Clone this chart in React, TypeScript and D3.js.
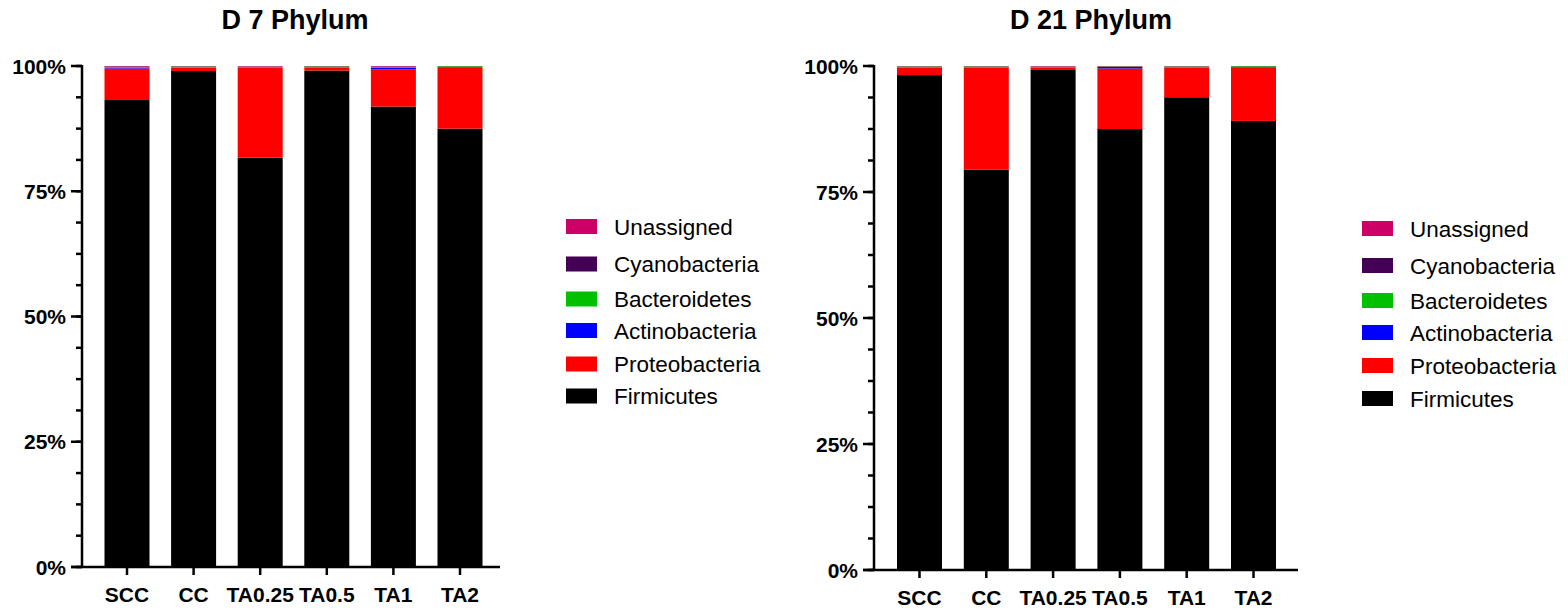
import React from "react";
import * as d3 from "d3";

const categories = ["SCC", "CC", "TA0.25", "TA0.5", "TA1", "TA2"];
const phyla = ["Firmicutes", "Proteobacteria", "Actinobacteria", "Bacteroidetes", "Cyanobacteria", "Unassigned"];
const phylumColors = ["#000000", "#FF0000", "#0000FF", "#00C000", "#440055", "#CC0066"];

// D 7 values (%), per category
const d7Firmicutes = [93.2, 99.0, 81.7, 99.1, 91.9, 87.5];
const d7Proteobacteria = [6.3, 0.6, 18.0, 0.6, 7.4, 12.2];
const d7Actinobacteria = [0.2, 0.05, 0.05, 0.05, 0.4, 0.1];
const d7Bacteroidetes = [0.1, 0.25, 0.1, 0.15, 0.1, 0.15];
const d7Cyanobacteria = [0.1, 0.05, 0.05, 0.05, 0.1, 0.02];
const d7Unassigned = [0.1, 0.05, 0.1, 0.05, 0.1, 0.03];

// D 21 values (%)
const d21Firmicutes = [98.2, 79.4, 99.2, 87.5, 93.8, 89.1];
const d21Proteobacteria = [1.5, 20.3, 0.5, 12.0, 5.9, 10.6];
const d21Actinobacteria = [0.05, 0.05, 0.05, 0.3, 0.05, 0.1];
const d21Bacteroidetes = [0.15, 0.15, 0.1, 0.1, 0.15, 0.15];
const d21Cyanobacteria = [0.05, 0.05, 0.05, 0.05, 0.05, 0.03];
const d21Unassigned = [0.05, 0.05, 0.1, 0.05, 0.05, 0.02];

const yTicks = [0, 25, 50, 75, 100];

const FONT = "Liberation Sans, Arial, sans-serif";

type PanelProps = {
  title: string;
  titleX: number;
  series: number[][];
  axisX: number;
  top: number;
  bottom: number;
  firstBar: number;
  step: number;
  barW: number;
  axisEnd: number;
  legendX: number;
  legendRows: number[];
};

function Panel(p: PanelProps) {
  const y = d3.scaleLinear().domain([0, 100]).range([p.bottom, p.top]);
  const x = d3
    .scaleBand<string>()
    .domain(categories)
    .range([p.firstBar - (p.step - p.barW) / 2, p.firstBar - (p.step - p.barW) / 2 + p.step * categories.length])
    .paddingInner((p.step - p.barW) / p.step)
    .paddingOuter((p.step - p.barW) / p.step / 2);
  const rows = categories.map((c, i) => {
    const r: any = { cat: c };
    phyla.forEach((ph, j) => (r[ph] = p.series[j][i]));
    return r;
  });
  const stacked = d3.stack<any>().keys(phyla)(rows);
  const minor = d3.range(0, 100.01, 6.25);
  return (
    <g>
      <text x={p.titleX} y={29} textAnchor="middle" fontFamily={FONT} fontWeight="bold" fontSize={27}>
        {p.title}
      </text>
      {stacked.map((layer, li) => (
        <g key={layer.key} fill={phylumColors[li]}>
          {layer.map((d, i) => (
            <rect
              key={i}
              x={x(categories[i])}
              width={x.bandwidth()}
              y={y(Math.min(d[1], 100))}
              height={Math.max(0, y(d[0]) - y(Math.min(d[1], 100)))}
            />
          ))}
        </g>
      ))}
      {/* y axis */}
      <line x1={p.axisX} x2={p.axisX} y1={p.top - 1} y2={p.bottom + 1} stroke="#000" strokeWidth={2.5} />
      {minor.map((t) => (
        <line key={t} x1={p.axisX - 6} x2={p.axisX} y1={y(t)} y2={y(t)} stroke="#000" strokeWidth={2.5} />
      ))}
      {yTicks.map((t) => (
        <g key={t}>
          <line x1={p.axisX - 11} x2={p.axisX} y1={y(t)} y2={y(t)} stroke="#000" strokeWidth={2.5} />
          <text
            x={p.axisX - 16}
            y={y(t)}
            dy="0.36em"
            textAnchor="end"
            fontFamily={FONT}
            fontWeight="bold"
            fontSize={21}
          >
            {t}%
          </text>
        </g>
      ))}
      {/* x axis */}
      <line x1={p.axisX - 11} x2={p.axisEnd} y1={p.bottom} y2={p.bottom} stroke="#000" strokeWidth={2.5} />
      {categories.map((c) => {
        const cx = (x(c) as number) + x.bandwidth() / 2;
        return (
          <g key={c}>
            <line x1={cx} x2={cx} y1={p.bottom} y2={p.bottom + 8} stroke="#000" strokeWidth={2.5} />
            <text x={cx} y={p.bottom + 35} textAnchor="middle" fontFamily={FONT} fontWeight="bold" fontSize={21}>
              {c}
            </text>
          </g>
        );
      })}
      {/* legend */}
      {phyla
        .map((ph, i) => ({ ph, i }))
        .reverse()
        .map(({ ph, i }, k) => (
          <g key={ph}>
            <rect x={p.legendX} y={p.legendRows[k] - 7.5} width={31} height={15} fill={phylumColors[i]} />
            <text x={p.legendX + 48} y={p.legendRows[k]} dy="0.36em" fontFamily={FONT} fontSize={22.5}>
              {ph}
            </text>
          </g>
        ))}
    </g>
  );
}

export default function App() {
  const d7 = [d7Firmicutes, d7Proteobacteria, d7Actinobacteria, d7Bacteroidetes, d7Cyanobacteria, d7Unassigned];
  const d21 = [d21Firmicutes, d21Proteobacteria, d21Actinobacteria, d21Bacteroidetes, d21Cyanobacteria, d21Unassigned];
  return (
    <svg
      width={1568}
      height={610}
      style={{ position: "absolute", left: 0, top: 0, background: "#fff" }}
    >
      <Panel
        title="D 7 Phylum"
        titleX={295}
        series={d7}
        axisX={82}
        top={66}
        bottom={567}
        firstBar={104.5}
        step={66.6}
        barW={45}
        axisEnd={500}
        legendX={566}
        legendRows={[226.5, 264, 299, 330.5, 364, 396]}
      />
      <Panel
        title="D 21 Phylum"
        titleX={1091}
        series={d21}
        axisX={874}
        top={66}
        bottom={570}
        firstBar={897}
        step={66.8}
        barW={45}
        axisEnd={1298}
        legendX={1362}
        legendRows={[228.5, 265.5, 300.5, 332.5, 365.5, 398.5]}
      />
    </svg>
  );
}
